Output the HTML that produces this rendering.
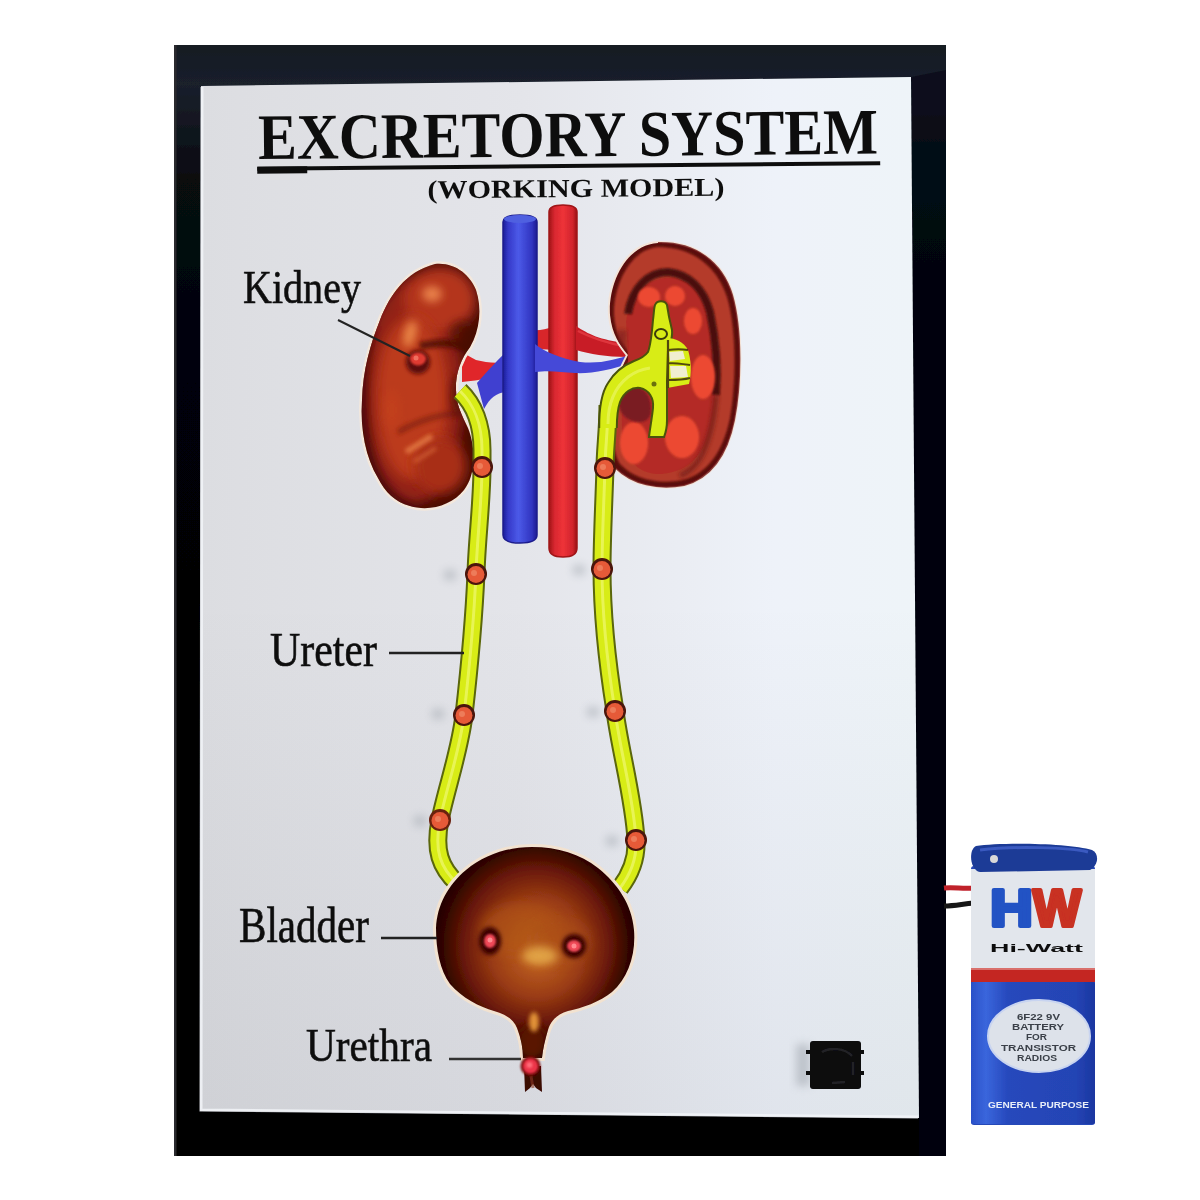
<!DOCTYPE html>
<html><head><meta charset="utf-8">
<style>
html,body{margin:0;padding:0;background:#fff;width:1200px;height:1200px;overflow:hidden}
svg{display:block}
text{font-family:"Liberation Serif",serif}
.sans{font-family:"Liberation Sans",sans-serif}
</style></head>
<body>
<svg width="1200" height="1200" viewBox="0 0 1200 1200">
<defs>
  <linearGradient id="board" x1="0" y1="0" x2="1" y2="0">
    <stop offset="0" stop-color="#dcdde1"/>
    <stop offset="0.45" stop-color="#e4e5ea"/>
    <stop offset="0.8" stop-color="#eef2f9"/>
    <stop offset="1" stop-color="#eef4f8"/>
  </linearGradient>
  <linearGradient id="boardV" x1="0" y1="0" x2="0" y2="1">
    <stop offset="0" stop-color="#283040" stop-opacity="0"/>
    <stop offset="0.5" stop-color="#283040" stop-opacity="0"/>
    <stop offset="1" stop-color="#283040" stop-opacity="0.07"/>
  </linearGradient>
  <radialGradient id="kidL" cx="0.45" cy="0.4" r="0.65">
    <stop offset="0" stop-color="#d85a22"/>
    <stop offset="0.6" stop-color="#b03c12"/>
    <stop offset="1" stop-color="#5a1206"/>
  </radialGradient>
  <radialGradient id="kidR" cx="0.5" cy="0.5" r="0.6">
    <stop offset="0" stop-color="#b8321a"/>
    <stop offset="0.8" stop-color="#a82a16"/>
    <stop offset="1" stop-color="#6a1208"/>
  </radialGradient>
  <radialGradient id="blad" cx="0.5" cy="0.47" r="0.53" fx="0.52" fy="0.5">
    <stop offset="0" stop-color="#dc9440"/>
    <stop offset="0.15" stop-color="#ba5c20"/>
    <stop offset="0.42" stop-color="#9a3c14"/>
    <stop offset="0.66" stop-color="#681808"/>
    <stop offset="0.84" stop-color="#300500"/>
    <stop offset="1" stop-color="#160100"/>
  </radialGradient>
  <linearGradient id="blueV" x1="0" y1="0" x2="1" y2="0">
    <stop offset="0" stop-color="#1c1c98"/>
    <stop offset="0.15" stop-color="#3438c8"/>
    <stop offset="0.45" stop-color="#4c5ae8"/>
    <stop offset="0.85" stop-color="#3034c0"/>
    <stop offset="1" stop-color="#1a1a90"/>
  </linearGradient>
  <linearGradient id="redA" x1="0" y1="0" x2="1" y2="0">
    <stop offset="0" stop-color="#a01418"/>
    <stop offset="0.2" stop-color="#d82830"/>
    <stop offset="0.5" stop-color="#ee3238"/>
    <stop offset="0.85" stop-color="#d0242c"/>
    <stop offset="1" stop-color="#980e14"/>
  </linearGradient>
  <linearGradient id="frameV" x1="0" y1="45" x2="0" y2="1156" gradientUnits="userSpaceOnUse">
    <stop offset="0" stop-color="#161a22"/>
    <stop offset="0.035" stop-color="#1a202c"/>
    <stop offset="0.12" stop-color="#070a10"/>
    <stop offset="0.3" stop-color="#020307"/>
    <stop offset="1" stop-color="#010103"/>
  </linearGradient>
  <linearGradient id="batBlue" x1="0" y1="0" x2="1" y2="0">
    <stop offset="0" stop-color="#2a50c8"/>
    <stop offset="0.12" stop-color="#3a66dc"/>
    <stop offset="0.3" stop-color="#2648bc"/>
    <stop offset="0.85" stop-color="#2444b4"/>
    <stop offset="1" stop-color="#1a36a0"/>
  </linearGradient>
  <filter id="gblur" x="0" y="0" width="1200" height="1200" filterUnits="userSpaceOnUse"><feGaussianBlur stdDeviation="0.6"/></filter>
  <filter id="blur1" x="-50%" y="-50%" width="200%" height="200%"><feGaussianBlur stdDeviation="1"/></filter>
  <filter id="blur2" x="-50%" y="-50%" width="200%" height="200%"><feGaussianBlur stdDeviation="2"/></filter>
  <filter id="blur4" x="-50%" y="-50%" width="200%" height="200%"><feGaussianBlur stdDeviation="4"/></filter>
  <filter id="blur6" x="-50%" y="-50%" width="200%" height="200%"><feGaussianBlur stdDeviation="6"/></filter>
</defs>

<g filter="url(#gblur)">
<!-- background -->
<rect x="0" y="0" width="1200" height="1200" fill="#ffffff"/>
<!-- black frame -->
<rect x="174" y="45" width="772" height="1111" fill="url(#frameV)"/>
<rect x="174" y="45" width="2.5" height="1111" fill="#2a2a2e"/>
<polygon points="911,77 946,70 946,1156 919,1156" fill="#010614" opacity="0.6"/>
<!-- board -->
<polygon points="201,86 911,77 919,1118 200,1111" fill="url(#board)"/>
<polygon points="201,86 911,77 919,1118 200,1111" fill="url(#boardV)"/>
<path d="M202,87 L201,1110 L918,1117" stroke="#f4f6fa" stroke-width="3" fill="none" opacity="0.8"/>

<!-- Title -->
<g transform="rotate(-0.5 568 140)">
  <text x="258" y="156.3" font-size="65" font-weight="bold" fill="#111" textLength="620" lengthAdjust="spacingAndGlyphs">EXCRETORY SYSTEM</text>
  <rect x="257" y="164" width="623" height="4" fill="#111"/>
  <rect x="257" y="164" width="50" height="7" fill="#111"/>
  <text x="427" y="197" font-size="26" font-weight="bold" fill="#111" textLength="297" lengthAdjust="spacingAndGlyphs">(WORKING MODEL)</text>
</g>



<g id="beadshadows" fill="#9aa0a8" filter="url(#blur4)" opacity="0.45">
  <ellipse cx="450" cy="575" rx="7" ry="6"/>
  <ellipse cx="438" cy="714" rx="7" ry="6"/>
  <ellipse cx="420" cy="821" rx="7" ry="6"/>
  <ellipse cx="579" cy="570" rx="7" ry="6"/>
  <ellipse cx="593" cy="712" rx="7" ry="6"/>
  <ellipse cx="612" cy="841" rx="7" ry="6"/>
</g>
<!-- ===== Vessels ===== -->
<g id="vessels">
  <!-- aorta left branch stub (between IVC and aorta) -->
  <path d="M530,330 C540,331 546,329 552,327 L552,350 C545,349 538,349 530,350 Z" fill="#d8262c"/>
  <!-- left renal artery (behind IVC) -->
  <path d="M505,362 C495,364 485,362 476,360 C470,357 466,354 462,352 L462,382 C470,381 480,380 490,378 C497,376 503,373 506,372 Z" fill="#e0262c"/>
  <!-- aorta -->
  <path d="M549,212 Q549,205 563,205 Q577,205 577,212 L577,548 Q577,557 563,557 Q549,557 549,548 Z" fill="url(#redA)" stroke="#a01418" stroke-width="1.5"/>
  <!-- right renal artery -->
  <path d="M576,326 C588,334 600,340 626,343 L627,357 C606,357 590,354 576,350 Z" fill="#c81e26"/>
  <path d="M578,331 C592,338 606,343 624,346" stroke="#e84048" stroke-width="2.5" fill="none" opacity="0.7"/>
  <!-- left renal vein -->
  <path d="M506,352 C498,360 490,368 477,383 L484,409 C490,398 496,393 506,392 Z" fill="#4040d0"/>
  <!-- IVC -->
  <path d="M503,222 Q503,215 520,215 Q537,215 537,222 L537,535 Q537,543 520,543 Q503,543 503,535 Z" fill="url(#blueV)" stroke="#1c1c8c" stroke-width="1.5"/>
  <ellipse cx="520" cy="219" rx="16" ry="4" fill="#5060e0"/>
  <!-- right renal vein crossing over aorta -->
  <path d="M535,344 C545,352 560,358 580,362 C600,364 615,360 632,354 L633,362 C612,370 590,374 575,373 C560,372 550,370 535,372 Z" fill="#4448d8"/>
</g>

<!-- ===== Left kidney ===== -->
<g id="kidneyL">
  <path id="kLpath" d="M435,264 C455,262 470,275 476,290 C482,308 480,330 470,347 C462,358 455,372 456,390 C456,405 462,415 468,428 C476,448 476,475 464,490 C452,505 430,512 410,506 C395,502 385,492 378,478 C366,458 360,430 362,400 C363,370 370,345 380,320 C390,295 405,272 435,264 Z" fill="#f8ece0" stroke="#f4e8dc" stroke-width="5"/>
  <clipPath id="kLclip"><use href="#kLpath"/></clipPath>
  <g clip-path="url(#kLclip)">
    <rect x="350" y="255" width="140" height="260" fill="#4a0c06"/>
    <ellipse cx="414" cy="392" rx="50" ry="112" fill="#922212" filter="url(#blur6)"/>
    <ellipse cx="440" cy="300" rx="36" ry="33" fill="#b4361c" filter="url(#blur6)"/>
    <ellipse cx="412" cy="398" rx="36" ry="82" fill="#bc3a1c" filter="url(#blur6)"/>
    <ellipse cx="440" cy="466" rx="26" ry="28" fill="#a82e16" filter="url(#blur6)"/>
    <!-- crease under upper pole -->
    <path d="M420,346 C438,342 455,342 468,348 C472,350 475,353 477,356" stroke="#4a0c06" stroke-width="8" fill="none" filter="url(#blur2)" opacity="0.8"/>
    <ellipse cx="462" cy="334" rx="14" ry="14" fill="#4a0c06" filter="url(#blur4)" opacity="0.55"/>
    <!-- crease above lower lobe -->
    <path d="M398,432 C420,420 445,412 466,414" stroke="#6a1608" stroke-width="6" fill="none" filter="url(#blur2)" opacity="0.5"/>
    <!-- hilum shadow -->
    <ellipse cx="458" cy="395" rx="7" ry="20" fill="#4a0c06" filter="url(#blur4)" opacity="0.7"/>
    <!-- highlights -->
    <ellipse cx="432" cy="294" rx="10" ry="8" fill="#e8804a" filter="url(#blur4)"/>
    <ellipse cx="410" cy="334" rx="6" ry="14" fill="#f0904e" filter="url(#blur4)" opacity="0.9" transform="rotate(15 410 334)"/>
    <ellipse cx="392" cy="410" rx="8" ry="20" fill="#c84424" filter="url(#blur4)" opacity="0.5"/>
    <path d="M406,452 L432,436" stroke="#e8804a" stroke-width="6" filter="url(#blur2)" opacity="0.8"/>
    <path d="M414,462 L436,448" stroke="#e07040" stroke-width="4" filter="url(#blur2)" opacity="0.6"/>
    <!-- left/bottom edge darkening -->
    <path d="M372,330 C362,360 360,420 368,455 C376,485 395,505 420,510" stroke="#3a0804" stroke-width="6" fill="none" filter="url(#blur4)" opacity="0.6"/>
  </g>
  <!-- dot -->
  <circle cx="418" cy="362" r="12" fill="#5a0a08" filter="url(#blur2)"/>
  <ellipse cx="418" cy="359" rx="8" ry="6.5" fill="#e03a30" filter="url(#blur1)"/>
  <circle cx="416" cy="358" r="2.5" fill="#f07060"/>
</g>

<!-- ===== Right kidney ===== -->
<g id="kidneyR">
  <path id="kRpath" d="M658,243 C695,242 722,262 732,295 C742,330 741,385 734,420 C727,455 710,478 684,485 C658,490 632,484 616,468 C605,452 606,420 612,395 C615,380 622,368 628,355 C620,345 612,335 610,315 C608,285 625,245 658,243 Z" fill="#f4e4d8" stroke="#f4e4d8" stroke-width="4"/>
  <clipPath id="kRclip"><use href="#kRpath"/></clipPath>
  <g clip-path="url(#kRclip)">
    <rect x="600" y="235" width="150" height="260" fill="#5a0e0c"/>
    <path d="M658,247 C692,247 717,266 727,297 C737,330 736,385 730,418 C723,452 707,474 683,480 C658,485 634,479 620,464 C611,450 611,420 616,398 C620,380 626,368 632,356 C624,346 615,335 614,315 C613,288 629,249 658,247 Z" fill="#b43a2a" filter="url(#blur1)"/>
    <!-- medulla -->
    <path d="M626,322 C630,292 650,276 674,278 C698,282 710,300 714,330 C718,365 717,405 708,436 C700,460 684,472 662,474 C644,475 630,466 624,446 C620,425 622,392 628,360 Z" fill="#b42c26"/>
    <!-- dark inner band -->
    <path d="M628,314 C632,288 648,272 668,272 C690,274 704,290 710,312 C716,340 718,370 716,395" stroke="#401010" stroke-width="8" fill="none" filter="url(#blur1)" opacity="0.9"/>
    <path d="M716,395 C714,420 710,440 700,458 C694,468 688,472 680,476" stroke="#5a1414" stroke-width="5" fill="none" filter="url(#blur2)" opacity="0.6"/>
    <path d="M622,330 C620,360 622,380 626,400" stroke="#7a1a1a" stroke-width="10" fill="none" filter="url(#blur2)" opacity="0.6"/>
    <!-- pyramids -->
    <g fill="#ec4a32" filter="url(#blur1)">
      <ellipse cx="649" cy="297" rx="11" ry="10"/>
      <ellipse cx="675" cy="296" rx="10" ry="10"/>
      <ellipse cx="693" cy="321" rx="9" ry="13"/>
      <ellipse cx="703" cy="377" rx="12" ry="22"/>
      <ellipse cx="634" cy="443" rx="14" ry="21"/>
      <ellipse cx="682" cy="437" rx="17" ry="21"/>
    </g>
    <!-- hole inside arch -->
    <path d="M619,394 C622,388 632,386 640,388 C648,392 651,400 651,410 C651,418 646,422 640,422 C630,422 620,416 619,405 Z" fill="#7a1a24" filter="url(#blur1)"/>
  </g>
  <path d="M658,243 C695,242 722,262 732,295 C742,330 741,385 734,420 C727,455 710,478 684,485 C658,490 632,484 616,468" stroke="#6a1010" stroke-width="2" fill="none" opacity="0.8"/>
</g>

<!-- ===== Ureters ===== -->
<g id="ureters" fill="none" stroke-linecap="round">
  <path id="uL" d="M460,391 C474,404 482,425 482,450 C482,458 482,463 482,467 C482,500 477,540 476,573 C474,620 468,680 464,715 C460,750 446,790 440,820 C434,850 440,868 458,884"/>
  <path id="uR" d="M608,405 C608,430 605,450 605,468 C604,500 602,540 602,568 C602,620 610,680 615,711 C620,750 634,800 636,840 C637,860 630,875 620,888"/>
</g>
<use href="#uL" stroke="#5a6608" stroke-width="19" fill="none"/>
<use href="#uR" stroke="#5a6608" stroke-width="19" fill="none"/>
<use href="#uL" stroke="#d8ec14" stroke-width="15" fill="none"/>
<use href="#uR" stroke="#d8ec14" stroke-width="15" fill="none"/>
<use href="#uL" stroke="#f4fa80" stroke-width="3" fill="none" opacity="0.6"/>
<use href="#uR" stroke="#f4fa80" stroke-width="3" fill="none" opacity="0.6"/>

<g id="pelvis">
  <path d="M599.2,428 C599,405 602,392 608,383 C614,373 624,365 634,361 C640,359 645,356 648,352 C651,344 652,332 653,320 C654,312 654,308 655,305 C657,300 665,300 667,305 C668,312 670,322 672,330 C673,338 670,344 668,350 L667,382 L667,420 C667,427 666,432 664,437 L649,437 C650,428 652,418 653,408 C654,398 649,390 640,388 C632,387 624,392 620,402 C618,408 616.8,415 616.8,428 Z" fill="#d8ec14"/>
  <path d="M599.2,428 C599,405 602,392 608,383 C614,373 624,365 634,361 C640,359 645,356 648,352 C651,344 652,332 653,320 C654,312 654,308 655,305 C657,300 665,300 667,305 C668,312 670,322 672,330 C673,338 670,344 668,350 L667,382 L667,420 C667,427 666,432 664,437 L649,437 C650,428 652,418 653,408 C654,398 649,390 640,388 C632,387 624,392 620,402 C618,408 616.8,415 616.8,428" fill="none" stroke="#4a5208" stroke-width="2"/>
  <path d="M608,424 C608,404 614,388 628,377 C636,371 643,369 650,368" stroke="#eef87a" stroke-width="3" fill="none" opacity="0.55"/>
  <!-- calyx details -->
  <path d="M667,338 C675,338 684,342 688,350 C691,360 692,372 689,384 L667,388 Z" fill="#d8ec14"/>
  <path d="M669,352 l14,-1 l2,8 l-15,2Z" fill="#f0eed0"/>
  <path d="M670,366 l16,0 l2,11 l-17,1Z" fill="#f0eed0"/>
  <path d="M668,340 L668,388 M668,350 C675,349 682,349 688,350 M668,363 C676,363 683,364 690,365 M668,380 C676,380 683,380 690,378" stroke="#3a2a08" stroke-width="2.2" fill="none" opacity="0.85"/>
  <ellipse cx="661" cy="334" rx="6" ry="5" fill="none" stroke="#3a3a08" stroke-width="2"/>
  <circle cx="654" cy="384" r="2.5" fill="#6a7010"/>
</g>
<!-- beads -->
<g id="beads">
  <g transform="translate(482,467)"><circle r="11" fill="#4a1208"/><circle r="8.5" cy="0.5" fill="#e65a38"/><circle r="3" cx="-2" cy="-1" fill="#f08a6a" opacity="0.7"/></g>
  <g transform="translate(605,468)"><circle r="11" fill="#4a1208"/><circle r="8.5" cy="0.5" fill="#e65a38"/><circle r="3" cx="-2" cy="-1" fill="#f08a6a" opacity="0.7"/></g>
  <g transform="translate(476,574)"><circle r="11" fill="#4a1208"/><circle r="8.5" cy="0.5" fill="#e65a38"/><circle r="3" cx="-2" cy="-1" fill="#f08a6a" opacity="0.7"/></g>
  <g transform="translate(602,569)"><circle r="11" fill="#4a1208"/><circle r="8.5" cy="0.5" fill="#e65a38"/><circle r="3" cx="-2" cy="-1" fill="#f08a6a" opacity="0.7"/></g>
  <g transform="translate(464,715)"><circle r="11" fill="#4a1208"/><circle r="8.5" cy="0.5" fill="#e65a38"/><circle r="3" cx="-2" cy="-1" fill="#f08a6a" opacity="0.7"/></g>
  <g transform="translate(615,711)"><circle r="11" fill="#4a1208"/><circle r="8.5" cy="0.5" fill="#e65a38"/><circle r="3" cx="-2" cy="-1" fill="#f08a6a" opacity="0.7"/></g>
  <g transform="translate(440,820)"><circle r="11" fill="#6a2010"/><circle r="8.5" cy="0.5" fill="#e65a38"/><circle r="3" cx="-2" cy="-1" fill="#f08a6a" opacity="0.7"/></g>
  <g transform="translate(636,840)"><circle r="11" fill="#4a1208"/><circle r="8.5" cy="0.5" fill="#e65a38"/><circle r="3" cx="-2" cy="-1" fill="#f08a6a" opacity="0.7"/></g>
</g>

<!-- ===== Bladder ===== -->
<g id="bladder">
  <path id="bpath" d="M532,847 C558,847 580,854 598,868 C618,884 632,905 634,930 C636,955 628,978 612,992 C600,1002 582,1008 568,1011 C558,1014 551,1020 548,1030 C545,1040 543,1048 542,1058 L523,1058 C523,1048 521,1038 517,1028 C514,1020 506,1014 494,1011 C480,1007 462,998 450,984 C440,970 436,950 436,928 C437,905 448,885 466,870 C484,855 508,847 532,847 Z" fill="#f0dcc8" stroke="#f2e2d0" stroke-width="6"/>
  <clipPath id="bclip"><use href="#bpath"/></clipPath>
  <g clip-path="url(#bclip)">
    <rect x="430" y="840" width="210" height="220" fill="url(#blad)"/>
    <ellipse cx="520" cy="930" rx="40" ry="26" fill="#b05418" filter="url(#blur6)" opacity="0.6"/>
    <ellipse cx="560" cy="940" rx="30" ry="22" fill="#a84c16" filter="url(#blur6)" opacity="0.5"/>
    <ellipse cx="540" cy="956" rx="18" ry="9" fill="#e4a848" filter="url(#blur4)" opacity="0.9"/>
    <ellipse cx="532" cy="1042" rx="14" ry="18" fill="#5a1206" filter="url(#blur4)"/>
    <ellipse cx="534" cy="1022" rx="5" ry="10" fill="#e89a3a" filter="url(#blur2)" opacity="0.95"/>
  </g>
  <g transform="translate(490,941)"><ellipse rx="11" ry="14" fill="#3a0402" filter="url(#blur2)"/><ellipse rx="6" ry="7" fill="#f04a58" filter="url(#blur1)"/><circle r="2.5" cy="-1" fill="#ff8a90"/></g>
  <g transform="translate(574,946)"><ellipse rx="12" ry="12" fill="#3a0402" filter="url(#blur2)"/><ellipse rx="7" ry="6" fill="#f04a58" filter="url(#blur1)"/><circle r="2.5" fill="#ff8a90"/></g>
  <!-- urethra bottom piece -->
  <path d="M524,1066 L541,1066 L542,1092 L536,1088 L533,1084 L530,1088 L525,1092 Z" fill="#3a0804"/>
  <path d="M531,1076 L533,1088" stroke="#8a3a20" stroke-width="3" opacity="0.6"/>
  <g transform="translate(530.5,1066)"><circle r="10" fill="#7a1008" filter="url(#blur1)"/><circle r="7.5" fill="#ec3448" filter="url(#blur1)"/><circle r="3" cx="-1" cy="-1" fill="#ff6a78" filter="url(#blur1)"/></g>
</g>

<!-- ===== Switch ===== -->
<g id="switch">
  <rect x="796" y="1044" width="14" height="42" fill="#9aa0a8" filter="url(#blur4)" opacity="0.5"/>
  <rect x="806" y="1050" width="6" height="4" fill="#111"/>
  <rect x="806" y="1071" width="6" height="4" fill="#111"/>
  <rect x="859" y="1050" width="5" height="4" fill="#111"/>
  <rect x="859" y="1071" width="5" height="4" fill="#111"/>
  <rect x="810" y="1041" width="51" height="48" rx="3" fill="#0a0a0c"/>
  <path d="M822,1052 C830,1047 845,1048 852,1056 M853,1062 L853,1075 M845,1082 L832,1083" stroke="#2a2a2e" stroke-width="2.5" fill="none" opacity="0.8"/>
</g>

<!-- ===== Wires ===== -->
<path d="M944,888 C955,887 962,889 974,888" stroke="#c0202a" stroke-width="5" fill="none"/>
<path d="M944,906 C955,906 962,904 974,903" stroke="#141414" stroke-width="5" fill="none"/>

<!-- ===== Battery ===== -->
<g id="battery">
  <!-- body -->
  <rect x="971" y="866" width="124" height="259" rx="3" fill="#2848b8"/>
  <rect x="971" y="869" width="124" height="101" fill="#e2e6ec"/>
  <rect x="971" y="968" width="124" height="14" fill="#c42820"/>
  <rect x="971" y="968" width="124" height="2" fill="#e8a0a0" opacity="0.6"/>
  <rect x="971" y="982" width="124" height="142" rx="2" fill="url(#batBlue)"/>
  <!-- cap -->
  <path d="M976,846 C1000,842 1070,843 1092,850 C1100,854 1098,866 1090,870 L980,872 C970,870 968,850 976,846 Z" fill="#1c3a96"/>
  <path d="M980,850 C1010,846 1070,847 1088,852" stroke="#3a5ac0" stroke-width="3" fill="none"/>
  <circle cx="994" cy="859" r="4" fill="#d8d8d8"/>
  <!-- HW logo -->
  <text class="sans" x="990" y="926" font-size="52" font-weight="bold" fill="#2452c4" stroke="#2452c4" stroke-width="4" stroke-linejoin="round" textLength="43" lengthAdjust="spacingAndGlyphs" style="font-family:'Liberation Sans',sans-serif">H</text>
  <text class="sans" x="1033" y="926" font-size="52" font-weight="bold" fill="#c83024" stroke="#c83024" stroke-width="4" stroke-linejoin="round" textLength="48" lengthAdjust="spacingAndGlyphs" style="font-family:'Liberation Sans',sans-serif">W</text>
  <text x="990" y="952" font-size="11" font-weight="bold" fill="#111" textLength="93" lengthAdjust="spacingAndGlyphs" style="font-family:'Liberation Sans',sans-serif">Hi-Watt</text>
  <!-- oval label -->
  <ellipse cx="1039" cy="1036" rx="51" ry="36" fill="#dde2ea" stroke="#c8d4f0" stroke-width="2"/>
  <g font-size="9" font-weight="bold" fill="#3a4048">
    <text class="sans" x="1017" y="1020" textLength="43" lengthAdjust="spacingAndGlyphs">6F22 9V</text>
    <text class="sans" x="1012" y="1030" textLength="52" lengthAdjust="spacingAndGlyphs">BATTERY</text>
    <text class="sans" x="1026" y="1040" textLength="21" lengthAdjust="spacingAndGlyphs">FOR</text>
    <text class="sans" x="1001" y="1051" textLength="75" lengthAdjust="spacingAndGlyphs">TRANSISTOR</text>
    <text class="sans" x="1017" y="1061" textLength="40" lengthAdjust="spacingAndGlyphs">RADIOS</text>
  </g>
  <text x="988" y="1108" font-size="9" font-weight="bold" fill="#e8eef8" textLength="101" lengthAdjust="spacingAndGlyphs" style="font-family:'Liberation Sans',sans-serif">GENERAL PURPOSE</text>
</g>

<!-- Labels -->
<text x="243" y="303" font-size="47" fill="#111" stroke="#111" stroke-width="0.6" textLength="118" lengthAdjust="spacingAndGlyphs">Kidney</text>
<line x1="338" y1="320" x2="410" y2="356" stroke="#222" stroke-width="2"/>
<text x="270" y="666" font-size="49" fill="#111" stroke="#111" stroke-width="0.6" textLength="107" lengthAdjust="spacingAndGlyphs">Ureter</text>
<line x1="389" y1="653" x2="464" y2="653" stroke="#222" stroke-width="2.5"/>
<text x="239" y="942" font-size="50" fill="#111" stroke="#111" stroke-width="0.6" textLength="130" lengthAdjust="spacingAndGlyphs">Bladder</text>
<line x1="381" y1="938" x2="437" y2="938" stroke="#222" stroke-width="2.5"/>
<text x="306" y="1061" font-size="47" fill="#111" stroke="#111" stroke-width="0.6" textLength="126" lengthAdjust="spacingAndGlyphs">Urethra</text>
<line x1="449" y1="1059" x2="521" y2="1059" stroke="#333" stroke-width="2.5"/>

</g>
</svg>
</body></html>
